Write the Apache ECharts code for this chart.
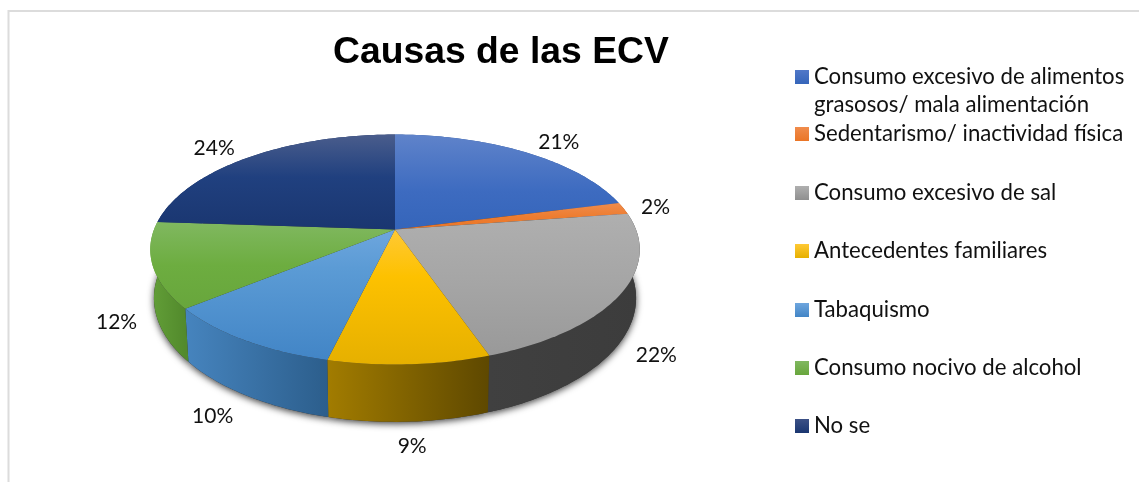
<!DOCTYPE html>
<html><head><meta charset="utf-8">
<style>html,body{margin:0;padding:0;background:#fff}#c{width:1139px;height:482px}</style>
<script src="https://cdn.jsdelivr.net/npm/echarts@6/dist/echarts.min.js"></script>
</head><body><div id="c"></div>
<script>
const categories = [
  'Consumo excesivo de alimentos\ngrasosos/ mala alimentación',
  'Sedentarismo/ inactividad física',
  'Consumo excesivo de sal',
  'Antecedentes familiares',
  'Tabaquismo',
  'Consumo nocivo de alcohol',
  'No se'
];
const values = [21, 1.7, 22, 9.05, 10.35, 12, 23.9];
const title = 'Causas de las ECV';

// colour stops: top face [light, mid, low], wall [left, right]
const topColors = [
  ['#5f83ca', '#3d6bc0', '#3565ba'],
  ['#f08c4c', '#ed7d31', '#ea7526'],
  ['#afafaf', '#a5a5a5', '#999999'],
  ['#ffc935', '#fdc100', '#e6b000'],
  ['#6ea6de', '#5b9bd5', '#4285c6'],
  ['#80b860', '#6dad40', '#68a63c'],
  ['#4a5d8c', '#20407f', '#1a3670']
];
const midStop = [0.6, 0.5, 0.5, 0.35, 0.3, 0.5, 0.45];
const wallColors = [
  ['#2f5597', '#2f5597'], ['#a85a20', '#a85a20'], ['#404040', '#3c3c3c'],
  ['#a27c00', '#5e4800'], ['#4684be', '#2c5e8c'], ['#639f38', '#528a2c'], ['#1a3060', '#1a3060']
];
const swatchColors = [
  ['#5178c8', '#3565ba'], ['#f08c4c', '#ea7526'], ['#afafaf', '#8f8f8f'],
  ['#ffc935', '#e6b000'], ['#6ea6de', '#4285c6'], ['#80b860', '#68a63c'], ['#3c5186', '#1a3670']
];
// label offset from the rim point at each slice's middle
const labelOffset = [[34, -10], [32, -1], [35, 62], [3, 82], [-32, 76], [-36, 57], [-35, -9]];
// legend row tops
const legendTops = [35, 120, 179, 237, 296, 354, 412];

const cx = 395, cy = 229.5, A = 111.5, B = 241, K = 0.174;
const total = values.reduce((s, v) => s + v, 0);
const starts = values.map((_, i) => values.slice(0, i).reduce((s, v) => s + v, 0) / total);

function rim(f) {
  const t = f * 2 * Math.PI, u = Math.sin(t), v = -Math.cos(t), w = 1 - K * v;
  return [cx + B * u / w, cy + A * v / w];
}
function lower(p) {
  return [cx + 0.985 * (p[0] - cx), cy + 47 + 1.077 * (p[1] - cy)];
}
function arc(a, b) {
  const n = Math.max(2, Math.ceil((b - a) * 360)), pts = [];
  for (let j = 0; j <= n; j++) pts.push(rim(a + (b - a) * j / n));
  return pts;
}
function linear(x0, y0, x1, y1, stops) {
  return { type: 'linear', x: x0, y: y0, x2: x1, y2: y1, global: true,
    colorStops: stops.map(s => ({ offset: s[0], color: s[1] })) };
}
function slice(i) {
  return function () {
    const a = starts[i], b = a + values[i] / total, top = arc(a, b);
    const low = top.map(lower);
    const wall = top.concat(low.slice().reverse());
    const xs = top.map(p => p[0]), ys = top.concat([[cx, cy]]).map(p => p[1]);
    const x0 = Math.min(...xs), x1 = Math.max(...xs), y0 = Math.min(...ys), y1 = Math.max(...ys);
    const c = topColors[i], m = rim(a + (b - a) / 2), off = labelOffset[i];
    return { type: 'group', children: [
      { type: 'polygon', z2: 0, silent: true, shape: { points: low.concat([lower([cx, cy])]) },
        style: { fill: '#333', shadowBlur: 7, shadowColor: 'rgba(0,0,0,0.75)', shadowOffsetY: 2 } },
      { type: 'polygon', z2: 1, silent: true, shape: { points: wall },
        style: { fill: linear(x0, 0, x1, 0, [[0, wallColors[i][0]], [1, wallColors[i][1]]]) } },
      { type: 'polygon', z2: 2, silent: true, shape: { points: top.concat([[cx, cy]]) },
        style: { fill: linear(0, y0, 0, y1, [[0, c[0]], [midStop[i], c[1]], [1, c[2]]]) } },
      { type: 'text', z2: 3, silent: true, x: m[0] + off[0], y: m[1] + off[1],
        style: { text: Math.round(values[i]) + '%', fill: '#111', font: '21px Lato', align: 'center', verticalAlign: 'middle' } }
    ] };
  };
}
const font = { color: '#111', fontFamily: 'Lato', fontSize: 22.2 };
const chart = echarts.init(document.getElementById('c'), null, { renderer: 'canvas' });
chart.setOption({
  animation: false,
  backgroundColor: '#fff',
  title: { text: title, left: 328, top: 29, textStyle: { fontFamily: 'Liberation Sans', fontWeight: 'bold', fontSize: 37.3, color: '#000' } },
  legend: categories.map((name, i) => ({
    data: [name], left: 795, top: legendTops[i], padding: 0, itemWidth: 14, itemHeight: 14, itemGap: 0,
    icon: 'rect', selectedMode: false,
    formatter: i === 0 ? (n => ' \n' + n) : undefined,
    textStyle: Object.assign({ lineHeight: 28 }, font)
  })),
  graphic: [
    { type: 'line', shape: { x1: 8.5, y1: 10, x2: 8.5, y2: 482 }, style: { stroke: '#dcdcdc', lineWidth: 2 }, silent: true },
    { type: 'line', shape: { x1: 8, y1: 11, x2: 1139, y2: 11 }, style: { stroke: '#dcdcdc', lineWidth: 2 }, silent: true }
  ],
  series: categories.map((name, i) => ({
    type: 'custom', name, coordinateSystem: 'none', clip: false, silent: true,
    renderItem: slice(i), data: [values[i]],
    itemStyle: { color: { type: 'linear', x: 0, y: 0, x2: 0, y2: 1,
      colorStops: [{ offset: 0, color: swatchColors[i][0] }, { offset: 1, color: swatchColors[i][1] }] } }
  }))
});
</script></body></html>
